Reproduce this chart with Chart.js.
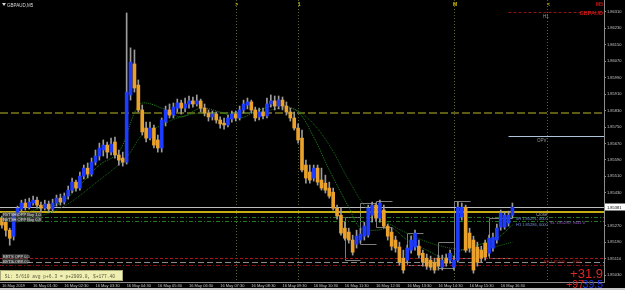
<!DOCTYPE html>
<html>
<head>
<meta charset="utf-8">
<script src="https://cdn.jsdelivr.net/npm/chart.js@4.4.1/dist/chart.umd.min.js"></script>
<style>
  html, body { margin: 0; padding: 0; background: #000; }
  canvas { display: block; }
</style>
</head>
<body>
<canvas id="chart" width="625" height="290"></canvas>
<script>
// GBPAUD M5, 16 May 2019 - candle values
const open = [
  1.85307, 1.85287, 1.85248, 1.85219, 1.85326, 1.85351, 1.85380, 1.85360, 1.85380, 1.85394,
  1.85370, 1.85355, 1.85375, 1.85351, 1.85380, 1.85404, 1.85385, 1.85414, 1.85443, 1.85482,
  1.85453, 1.85511, 1.85550, 1.85521, 1.85579, 1.85609, 1.85638, 1.85662, 1.85628, 1.85677,
  1.85614, 1.85599, 1.85579, 1.85906, 1.86057, 1.85954, 1.85833, 1.85745, 1.85696, 1.85745,
  1.85687, 1.85648, 1.85774, 1.85833, 1.85808, 1.85842, 1.85867, 1.85842, 1.85862, 1.85877,
  1.85862, 1.85877, 1.85842, 1.85818, 1.85799, 1.85813, 1.85784, 1.85769, 1.85760, 1.85789,
  1.85813, 1.85794, 1.85833, 1.85857, 1.85872, 1.85833, 1.85799, 1.85823, 1.85804, 1.85862,
  1.85877, 1.85852, 1.85881, 1.85852, 1.85823, 1.85794, 1.85745, 1.85696, 1.85565, 1.85531,
  1.85502, 1.85550, 1.85492, 1.85477, 1.85453, 1.85433, 1.85355, 1.85321, 1.85258, 1.85239,
  1.85200, 1.85180, 1.85200, 1.85219, 1.85224, 1.85321, 1.85370, 1.85307, 1.85346, 1.85268,
  1.85239, 1.85200, 1.85166, 1.85112, 1.85102, 1.85151, 1.85166, 1.85170, 1.85136, 1.85112,
  1.85102, 1.85092, 1.85112, 1.85068, 1.85112, 1.85102, 1.85068, 1.85102, 1.85312, 1.85360,
  1.85234, 1.85200, 1.85166, 1.85151, 1.85185, 1.85136, 1.85161, 1.85200, 1.85263, 1.85263,
  1.85282, 1.85321
];
const high = [
  1.85317, 1.85302, 1.85258, 1.85336, 1.85365, 1.85394, 1.85399, 1.85404, 1.85414, 1.85409,
  1.85385, 1.85394, 1.85390, 1.85399, 1.85419, 1.85424, 1.85429, 1.85463, 1.85502, 1.85492,
  1.85531, 1.85565, 1.85575, 1.85599, 1.85638, 1.85672, 1.85687, 1.85677, 1.85696, 1.85701,
  1.85638, 1.85628, 1.86305, 1.86135, 1.86125, 1.85979, 1.85857, 1.85774, 1.85774, 1.85760,
  1.85711, 1.85794, 1.85852, 1.85862, 1.85867, 1.85886, 1.85881, 1.85891, 1.85901, 1.85896,
  1.85906, 1.85886, 1.85862, 1.85833, 1.85828, 1.85823, 1.85799, 1.85794, 1.85808, 1.85828,
  1.85828, 1.85852, 1.85881, 1.85891, 1.85881, 1.85847, 1.85842, 1.85842, 1.85891, 1.85906,
  1.85901, 1.85901, 1.85896, 1.85872, 1.85842, 1.85823, 1.85765, 1.85735, 1.85589, 1.85565,
  1.85565, 1.85565, 1.85550, 1.85516, 1.85482, 1.85453, 1.85370, 1.85355, 1.85287, 1.85258,
  1.85224, 1.85248, 1.85258, 1.85287, 1.85370, 1.85385, 1.85380, 1.85394, 1.85370, 1.85278,
  1.85258, 1.85219, 1.85190, 1.85151, 1.85175, 1.85219, 1.85248, 1.85200, 1.85151, 1.85132,
  1.85122, 1.85112, 1.85127, 1.85127, 1.85132, 1.85151, 1.85122, 1.85385, 1.85380, 1.85370,
  1.85258, 1.85219, 1.85190, 1.85170, 1.85200, 1.85224, 1.85234, 1.85278, 1.85346, 1.85336,
  1.85341, 1.85380
];
const low = [
  1.85258, 1.85219, 1.85175, 1.85200, 1.85317, 1.85341, 1.85346, 1.85351, 1.85370, 1.85355,
  1.85341, 1.85346, 1.85336, 1.85341, 1.85365, 1.85370, 1.85375, 1.85399, 1.85429, 1.85438,
  1.85443, 1.85497, 1.85502, 1.85511, 1.85565, 1.85589, 1.85609, 1.85599, 1.85614, 1.85599,
  1.85565, 1.85560, 1.85570, 1.85881, 1.85920, 1.85823, 1.85711, 1.85677, 1.85687, 1.85648,
  1.85628, 1.85628, 1.85755, 1.85794, 1.85794, 1.85823, 1.85813, 1.85823, 1.85842, 1.85847,
  1.85852, 1.85823, 1.85804, 1.85779, 1.85784, 1.85769, 1.85745, 1.85740, 1.85750, 1.85774,
  1.85779, 1.85784, 1.85818, 1.85838, 1.85818, 1.85779, 1.85784, 1.85789, 1.85794, 1.85847,
  1.85833, 1.85838, 1.85833, 1.85808, 1.85779, 1.85735, 1.85672, 1.85531, 1.85477, 1.85477,
  1.85487, 1.85467, 1.85443, 1.85429, 1.85404, 1.85346, 1.85302, 1.85224, 1.85200, 1.85185,
  1.85127, 1.85161, 1.85185, 1.85200, 1.85214, 1.85287, 1.85292, 1.85287, 1.85258, 1.85200,
  1.85151, 1.85141, 1.85078, 1.85039, 1.85088, 1.85136, 1.85151, 1.85112, 1.85073, 1.85058,
  1.85054, 1.85039, 1.85054, 1.85054, 1.85073, 1.85088, 1.85054, 1.85092, 1.85297, 1.85141,
  1.85141, 1.85039, 1.85073, 1.85092, 1.85102, 1.85122, 1.85146, 1.85185, 1.85248, 1.85253,
  1.85268, 1.85307
];
const close = [
  1.85273, 1.85248, 1.85209, 1.85326, 1.85355, 1.85380, 1.85360, 1.85385, 1.85394, 1.85370,
  1.85355, 1.85375, 1.85351, 1.85380, 1.85404, 1.85385, 1.85414, 1.85443, 1.85482, 1.85453,
  1.85511, 1.85550, 1.85521, 1.85579, 1.85609, 1.85648, 1.85662, 1.85628, 1.85667, 1.85614,
  1.85589, 1.85579, 1.85920, 1.86066, 1.85940, 1.85833, 1.85726, 1.85696, 1.85745, 1.85662,
  1.85648, 1.85784, 1.85833, 1.85808, 1.85847, 1.85867, 1.85842, 1.85862, 1.85877, 1.85862,
  1.85877, 1.85842, 1.85818, 1.85799, 1.85813, 1.85784, 1.85765, 1.85760, 1.85794, 1.85813,
  1.85794, 1.85833, 1.85862, 1.85872, 1.85833, 1.85794, 1.85823, 1.85804, 1.85862, 1.85877,
  1.85852, 1.85881, 1.85852, 1.85823, 1.85794, 1.85745, 1.85687, 1.85541, 1.85502, 1.85492,
  1.85550, 1.85482, 1.85453, 1.85443, 1.85414, 1.85355, 1.85317, 1.85234, 1.85209, 1.85200,
  1.85141, 1.85219, 1.85229, 1.85268, 1.85355, 1.85370, 1.85307, 1.85380, 1.85268, 1.85219,
  1.85170, 1.85161, 1.85092, 1.85054, 1.85161, 1.85200, 1.85234, 1.85127, 1.85092, 1.85073,
  1.85068, 1.85054, 1.85073, 1.85102, 1.85088, 1.85136, 1.85102, 1.85360, 1.85360, 1.85151,
  1.85161, 1.85054, 1.85092, 1.85112, 1.85117, 1.85209, 1.85214, 1.85258, 1.85331, 1.85321,
  1.85321, 1.85360
];

// moving averages (read at a few candles, dotted green lines)
const fastSlots = [4, 10, 15, 20, 25, 30, 34, 36, 41, 46, 51, 56, 61, 66, 71, 76, 80, 84, 89, 92, 96, 100, 104, 109, 114, 118, 122, 127, 131];
const maFast = [1.85321, 1.85355, 1.85380, 1.85467, 1.85565, 1.85628, 1.85818, 1.85867, 1.85842, 1.85799,
  1.85842, 1.85823, 1.85794, 1.85833, 1.85857, 1.85823, 1.85701, 1.85541, 1.85360, 1.85258,
  1.85248, 1.85258, 1.85200, 1.85151, 1.85112, 1.85151, 1.85175, 1.85209, 1.85273];
const slowSlots = [4, 15, 25, 32, 36, 40, 45, 51, 59, 66, 74, 79, 84, 89, 94, 100, 105, 110, 115, 120, 125, 131];
const maSlow = [1.85287, 1.85355, 1.85492, 1.85604, 1.85711, 1.85750, 1.85794, 1.85818, 1.85818, 1.85823,
  1.85842, 1.85784, 1.85662, 1.85492, 1.85346, 1.85273, 1.85224, 1.85185, 1.85161, 1.85151,
  1.85161, 1.85190];

// horizontal levels drawn on the chart
const levelPrices = [1.86310, 1.85818, 1.85706, 1.85360, 1.85336, 1.85312, 1.85292, 1.85112, 1.85092, 1.85078];

// session range boxes: first slot, last slot, top, bottom
const boxFrom = [88, 92, 96, 104, 112, 116, 125];
const boxTo = [92, 96, 100, 108, 116, 120, 131];
const boxHigh = [1.85312, 1.85380, 1.85390, 1.85234, 1.85190, 1.85390, 1.85307];
const boxLow = [1.85102, 1.85180, 1.85263, 1.85078, 1.85063, 1.85112, 1.85112];

// session separators
const sessionSlots = [60, 76, 116, 140];
const sessionMarks = ['>', '1', 'M', '<'];

// axes
const timeTicks = ['16 May 2019', '16 May 01:30', '16 May 02:30', '16 May 03:30', '16 May 04:30',
  '16 May 05:30', '16 May 06:30', '16 May 07:30', '16 May 08:30', '16 May 09:30', '16 May 10:30',
  '16 May 11:30', '16 May 12:30', '16 May 13:30', '16 May 14:30', '16 May 15:30', '16 May 16:30'];
const yTicks = [1.86310, 1.86230, 1.86150, 1.86070, 1.85990, 1.85910, 1.85830, 1.85750, 1.85670,
  1.85590, 1.85510, 1.85430, 1.85270, 1.85190, 1.85110, 1.85030];
const bidText = '1.85381';

const slotCount = 155;
const slotLabels = [];
for (let i = 0; i < slotCount; i++) {
  const sec = (30 + 7.5 * i) * 60;
  const hh = String(Math.floor(sec / 3600)).padStart(2, '0');
  const mm = String(Math.floor(sec / 60) % 60).padStart(2, '0');
  const ss = String(sec % 60).padStart(2, '0');
  slotLabels.push(hh + ':' + mm + ':' + ss);
}

const bodies = open.map((o, i) => [o, close[i]]);
const wicks = low.map((l, i) => [l, high[i]]);
const bodyColors = open.map((o, i) => close[i] >= o ? '#1d3cff' : '#eaa22c');

const levelStyle = [
  { color: '#8b1616', width: 1, dash: [3, 2], from: 130 },
  { color: '#5e5c14', width: 2, dash: [8, 3], from: null },
  { color: '#aec4dc', width: 1, dash: [], from: 130 },
  { color: '#bdbdbd', width: 1, dash: [], from: null },
  { color: '#c4ae14', width: 2, dash: [], from: null },
  { color: '#237a23', width: 1, dash: [4, 2, 1, 2], from: null },
  { color: '#237a23', width: 1, dash: [4, 2, 1, 2], from: null },
  { color: '#a01818', width: 1, dash: [3, 2], from: null },
  { color: '#8a8a8a', width: 1, dash: [6, 3], from: null },
  { color: '#8b1010', width: 1, dash: [4, 2, 1, 2], from: null }
];

const overlay = {
  id: 'overlay',
  beforeDatasetsDraw(chart) {
    const { ctx, chartArea: a, scales: { x, y } } = chart;
    ctx.save();
    ctx.beginPath();
    ctx.rect(a.left, a.top, a.right - a.left, a.bottom - a.top);
    ctx.clip();

    // session separators
    ctx.strokeStyle = '#56632f';
    ctx.lineWidth = 1;
    ctx.setLineDash([1, 2]);
    sessionSlots.forEach(s => {
      const px = Math.round(x.getPixelForValue(s)) + 0.5;
      ctx.beginPath();
      ctx.moveTo(px, a.top);
      ctx.lineTo(px, a.bottom);
      ctx.stroke();
    });

    // range boxes
    ctx.setLineDash([]);
    ctx.strokeStyle = '#7c7c7c';
    boxFrom.forEach((f, k) => {
      const x1 = Math.round(x.getPixelForValue(f)) + 0.5;
      const x2 = Math.round(x.getPixelForValue(boxTo[k])) + 0.5;
      const y1 = Math.round(y.getPixelForValue(boxHigh[k])) + 0.5;
      const y2 = Math.round(y.getPixelForValue(boxLow[k])) + 0.5;
      ctx.beginPath();
      ctx.moveTo(x2, y1); ctx.lineTo(x1, y1); ctx.lineTo(x1, y2); ctx.lineTo(x2, y2);
      ctx.stroke();
    });

    // horizontal levels
    levelPrices.forEach((p, k) => {
      const st = levelStyle[k];
      const py = Math.round(y.getPixelForValue(p)) + (st.width % 2 ? 0.5 : 0);
      ctx.strokeStyle = st.color;
      ctx.lineWidth = st.width;
      ctx.setLineDash(st.dash);
      ctx.beginPath();
      ctx.moveTo(st.from === null ? a.left : x.getPixelForValue(st.from), py);
      ctx.lineTo(a.right, py);
      ctx.stroke();
    });
    ctx.restore();
  },
  afterDraw(chart) {
    const { ctx, chartArea: a, scales: { x, y } } = chart;
    ctx.save();
    ctx.textBaseline = 'alphabetic';

    // symbol caption
    ctx.fillStyle = '#d8d8d8';
    ctx.beginPath();
    ctx.moveTo(2, 3); ctx.lineTo(6, 3); ctx.lineTo(4, 6); ctx.closePath();
    ctx.fill();
    ctx.font = '4.5px "Liberation Sans"';
    ctx.fillText('GBPAUD,M5', 7, 7);

    // session marks
    ctx.fillStyle = '#d4c400';
    ctx.font = 'bold 5px "Liberation Sans"';
    ctx.textAlign = 'center';
    sessionSlots.forEach((s, k) => ctx.fillText(sessionMarks[k], x.getPixelForValue(s) + 1, 6));

    // top right labels
    ctx.textAlign = 'right';
    ctx.fillStyle = '#d01818';
    ctx.font = 'bold 5px "Liberation Sans"';
    ctx.fillText('M5', 603, 6);
    ctx.font = 'bold 5.5px "Liberation Sans"';
    ctx.fillText('GBPAUD', 603, 15);

    ctx.textAlign = 'left';
    ctx.fillStyle = '#9a9a9a';
    ctx.font = '4.5px "Liberation Sans"';
    ctx.fillText('H1', 543, 18);
    ctx.fillText('OPV', 537, 142);
    ctx.fillText('Close', 536, 216);

    // order labels near the current price
    ctx.fillStyle = '#6f8fdc';
    ctx.font = '4px "Liberation Sans"';
    ctx.fillText('4H 1.85291, 0000', 516, 220);
    ctx.fillText('H1 1.85286, 0000', 516, 226);
    ctx.fillStyle = '#9a5cc8';
    ctx.fillText('SL 1.85290, 9441.0', 550, 224);
    ctx.fillStyle = '#c02020';
    ctx.fillText('BE 1.85100 ..... 0.00', 544, 263);

    // left side trade labels
    const tags = [['RVTSH OPP Buy 1.0', 216], ['RVTSH OPP Buy 0.8', 221], ['BRTS OPP 0.5', 258], ['RVTS OPP 0.5', 263]];
    tags.forEach(([t, by]) => {
      ctx.fillStyle = 'rgba(90,90,90,0.55)';
      ctx.fillRect(2, by - 4, t.length < 14 ? 26 : 40, 5);
      ctx.fillStyle = '#e0e0e0';
      ctx.fillText(t, 3, by);
    });

    // profit figures
    ctx.textAlign = 'right';
    ctx.fillStyle = '#e02424';
    ctx.font = '13px "Liberation Sans"';
    ctx.fillText('+31.9', 603, 278);
    ctx.font = '10.5px "Liberation Sans"';
    ctx.fillStyle = '#2436e8';
    ctx.fillText('39.5', 603, 288);
    ctx.fillStyle = '#e02424';
    ctx.fillText('+97', 584, 288);

    // summary box
    ctx.textAlign = 'left';
    ctx.fillStyle = '#efefb2';
    ctx.fillRect(0, 270, 123, 11);
    ctx.strokeStyle = '#a8a878';
    ctx.lineWidth = 1;
    ctx.strokeRect(0.5, 270.5, 122, 10);
    ctx.fillStyle = '#56563a';
    ctx.font = '4.6px "Liberation Mono"';
    ctx.fillText(' SL: 5/610 avg p+6.3 = p+2909.0, $+177.40', 2, 277.5);

    // current bid box on the price axis
    const by = Math.round(y.getPixelForValue(levelPrices[3]));
    ctx.fillStyle = '#ffffff';
    ctx.fillRect(a.right + 1, by - 3.5, 20, 7);
    ctx.fillStyle = '#000000';
    ctx.font = '4px "Liberation Sans"';
    ctx.fillText(bidText, a.right + 3, by + 1.5);

    // terminal tab strip
    ctx.fillStyle = '#c8c8c8';
    ctx.fillRect(0, 288, 625, 2);
    ctx.restore();
  }
};

Chart.defaults.font.family = '"Liberation Sans", Arial, sans-serif';

new Chart(document.getElementById('chart').getContext('2d'), {
  type: 'bar',
  data: {
    labels: slotLabels,
    datasets: [
      {
        label: 'body',
        data: bodies,
        backgroundColor: bodyColors,
        borderWidth: 0,
        barThickness: 3,
        minBarLength: 1,
        grouped: false,
        order: 1
      },
      {
        label: 'wick',
        data: wicks,
        backgroundColor: '#9c9c9c',
        borderWidth: 0,
        barThickness: 1,
        grouped: false,
        order: 2
      },
      {
        type: 'line',
        label: 'MA fast',
        data: fastSlots.map((s, k) => ({ x: slotLabels[s], y: maFast[k] })),
        borderColor: '#1f8a1f',
        borderWidth: 1,
        borderDash: [1, 1],
        pointRadius: 0,
        tension: 0.35,
        order: 3
      },
      {
        type: 'line',
        label: 'MA slow',
        data: slowSlots.map((s, k) => ({ x: slotLabels[s], y: maSlow[k] })),
        borderColor: '#1a6e1a',
        borderWidth: 1,
        borderDash: [1, 1],
        pointRadius: 0,
        tension: 0.35,
        order: 4
      }
    ]
  },
  options: {
    responsive: false,
    animation: false,
    events: [],
    layout: { padding: 0 },
    plugins: {
      legend: { display: false },
      tooltip: { enabled: false }
    },
    scales: {
      x: {
        type: 'category',
        offset: true,
        grid: { display: false, drawTicks: false, tickLength: 0 },
        border: { display: true, color: '#8c8c8c' },
        ticks: {
          color: '#c4c4c4',
          font: { size: 4 },
          autoSkip: false,
          maxRotation: 0,
          minRotation: 0,
          align: 'start',
          padding: 1,
          callback: v => timeTicks[v / 8]
        },
        afterBuildTicks: axis => { axis.ticks = timeTicks.map((t, k) => ({ value: k * 8 })); },
        afterFit: axis => { axis.height = 8; axis.paddingLeft = 0; axis.paddingRight = 0; }
      },
      y: {
        position: 'right',
        min: 1.84996,
        max: 1.86368,
        grid: { display: true, drawOnChartArea: false, tickLength: 2, color: '#8c8c8c' },
        border: { display: true, color: '#8c8c8c' },
        ticks: {
          color: '#c4c4c4',
          font: { size: 4 },
          padding: 1,
          callback: v => v.toFixed(5)
        },
        afterBuildTicks: axis => { axis.ticks = yTicks.map(v => ({ value: v })); },
        afterFit: axis => { axis.width = 21; axis.paddingTop = 0; axis.paddingBottom = 0; }
      }
    }
  },
  plugins: [overlay]
});
</script>
</body>
</html>
